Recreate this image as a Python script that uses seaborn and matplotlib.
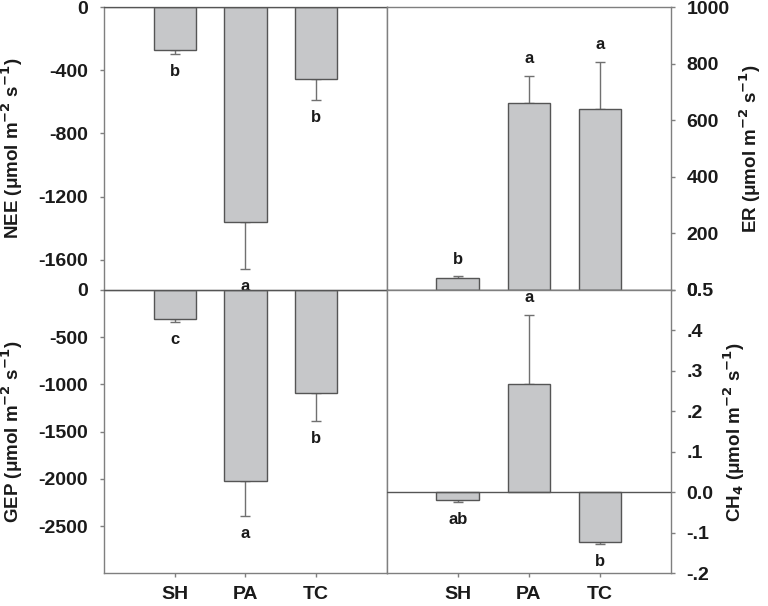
import matplotlib
matplotlib.use("Agg")
import matplotlib.pyplot as plt
import seaborn as sns
import pandas as pd
import numpy as np

sns.set_theme(style="white")
plt.rcParams['font.family'] = ['Liberation Sans', 'DejaVu Sans']
plt.rcParams['axes.unicode_minus'] = False

sites = ["SH", "PA", "TC"]

nee_mean = [-273, -1363, -455]
nee_err = [-27, -292, -131]
nee_letters = ["b", "a", "b"]

er_mean = [41, 660, 640]
er_err = [7, 97, 165]
er_letters = ["b", "a", "a"]

gep_mean = [-310, -2023, -1094]
gep_err = [-32, -371, -294]
gep_letters = ["c", "a", "b"]

ch4_mean = [-0.019, 0.267, -0.123]
ch4_err = [-0.006, 0.171, -0.004]
ch4_letters = ["ab", "a", "b"]

nee_ticks = [0, -400, -800, -1200, -1600]
nee_ticklabels = ["0", "-400", "-800", "-1200", "-1600"]
er_ticks = [0, 200, 400, 600, 800, 1000]
er_ticklabels = ["0", "200", "400", "600", "800", "1000"]
gep_ticks = [0, -500, -1000, -1500, -2000, -2500]
gep_ticklabels = ["0", "-500", "-1000", "-1500", "-2000", "-2500"]
ch4_ticks = [-0.2, -0.1, 0.0, 0.1, 0.2, 0.3, 0.4, 0.5]
ch4_ticklabels = ["-.2", "-.1", "0.0", ".1", ".2", ".3", ".4", "0.5"]

BAR = "#c6c7c9"
EDGE = "#555555"
SPINE = "#7f7f7f"
TXT = "#1a1a1a"

fig = plt.figure(figsize=(7.68, 6.06), dpi=100)
W, H = 768, 606
def rect(x0, y0, x1, y1):
    return [x0 / W, 1 - y1 / H, (x1 - x0) / W, (y1 - y0) / H]

ax_nee = fig.add_axes(rect(104.3, 7, 386.7, 290))
ax_er = fig.add_axes(rect(386.7, 7, 671, 290))
ax_gep = fig.add_axes(rect(104.3, 290, 386.7, 573.3))
ax_ch4 = fig.add_axes(rect(386.7, 290, 671, 573.3))

panels = [
    (ax_nee, nee_mean, nee_err, nee_letters, (-1790, 0), nee_ticks, nee_ticklabels,
     "NEE (μmol m$^{\\mathbf{-2}}$ s$^{\\mathbf{-1}}$)", "left", False),
    (ax_er, er_mean, er_err, er_letters, (0, 1000), er_ticks, er_ticklabels,
     "ER (μmol m$^{\\mathbf{-2}}$ s$^{\\mathbf{-1}}$)", "right", False),
    (ax_gep, gep_mean, gep_err, gep_letters, (-3000, 0), gep_ticks, gep_ticklabels,
     "GEP (μmol m$^{\\mathbf{-2}}$ s$^{\\mathbf{-1}}$)", "left", True),
    (ax_ch4, ch4_mean, ch4_err, ch4_letters, (-0.2, 0.5), ch4_ticks, ch4_ticklabels,
     "CH$_{\\mathbf{4}}$ (μmol m$^{\\mathbf{-2}}$ s$^{\\mathbf{-1}}$)", "right", True),
]

for ax, mean, err, letters, ylim, ticks, ticklabels, ylabel, side, showx in panels:
    df = pd.DataFrame({"site": sites, "value": mean})
    sns.barplot(data=df, x="site", y="value", ax=ax, color=BAR, saturation=1,
                edgecolor=EDGE, linewidth=1.0, width=0.6, errorbar=None, zorder=2)
    xs = np.arange(len(sites))
    for xi, m, e in zip(xs, mean, err):
        lower = [0] if e > 0 else [abs(e)]
        upper = [e] if e > 0 else [0]
        ax.errorbar([xi], [m], yerr=[lower, upper], fmt="none", ecolor="#707070",
                    elinewidth=1.0, capsize=3.5, capthick=1.0, zorder=1)
    span = ylim[1] - ylim[0]
    for xi, m, e, lab in zip(xs, mean, err, letters):
        end = m + e
        if e >= 0:
            ax.text(xi, end + span * 0.035, lab, ha="center", va="bottom",
                    fontsize=12, fontweight="bold", color=TXT, clip_on=False)
        else:
            ax.text(xi, end - span * 0.035, lab, ha="center", va="top",
                    fontsize=12, fontweight="bold", color=TXT, clip_on=False)
    ax.axhline(0, color="#555555", lw=1.0, zorder=3)
    ax.set_xlim(-1.0, 3.0)
    ax.set_ylim(*ylim)
    ax.set_yticks(ticks)
    ax.set_yticklabels(ticklabels, fontsize=14, fontweight="bold", color=TXT)
    ax.set_xlabel("")
    ax.set_ylabel(ylabel, fontsize=13.5, fontweight="bold", color=TXT)
    if side == "right":
        ax.yaxis.tick_right()
        ax.yaxis.set_label_position("right")
        ax.tick_params(axis="y", which="both", left=False, right=True, labelleft=False,
                       labelright=True, direction="out", length=3, width=1,
                       color=SPINE, pad=8)
        ax.yaxis.labelpad = 6
    else:
        ax.tick_params(axis="y", direction="out", length=3, width=1, color=SPINE, pad=9,
                       left=True)
        ax.yaxis.labelpad = 9
    if showx:
        ax.set_xticks(xs)
        ax.set_xticklabels(sites, fontsize=14, fontweight="bold", color=TXT)
        ax.tick_params(axis="x", direction="out", length=3, width=1, color=SPINE,
                       pad=6, bottom=True)
    else:
        ax.set_xticks([])
    for sp in ax.spines.values():
        sp.set_visible(True)
        sp.set_color(SPINE)
        sp.set_linewidth(1.0)

fig.savefig("out.png", dpi=100)
